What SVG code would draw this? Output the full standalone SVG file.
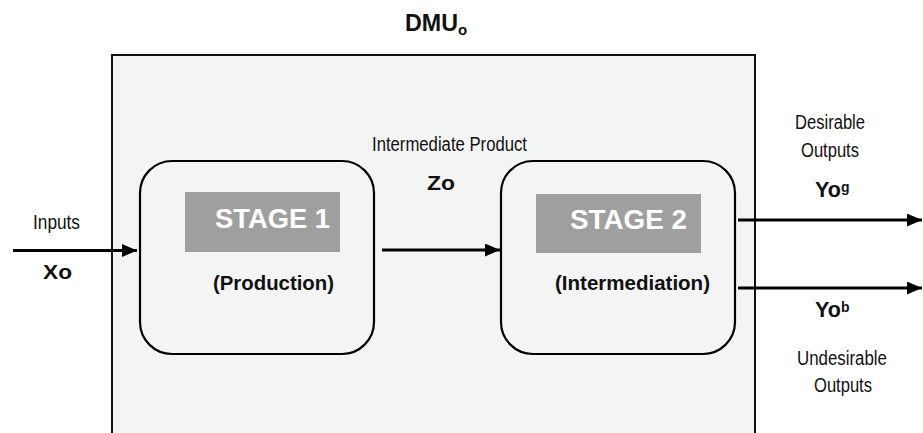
<svg xmlns="http://www.w3.org/2000/svg" width="923" height="433" viewBox="0 0 923 433">
<defs>
<marker id="ah" markerWidth="15" markerHeight="13" refX="15" refY="6.5" orient="auto" markerUnits="userSpaceOnUse">
<path d="M0,0 L15,6.5 L0,13 Z" fill="#000"/>
</marker>
<style>
.lbl{font-family:"Liberation Sans",Arial,sans-serif;font-size:19.5px;fill:#111;text-anchor:middle}
.b{font-family:"Liberation Sans",Arial,sans-serif;font-weight:bold;fill:#111;text-anchor:middle}
.st{text-anchor:start}
.stage{fill:#fff;font-size:28px}
.box{fill:none;stroke:#000;stroke-width:2.2}
.tag{fill:#9f9f9f}
.conn{stroke:#000;stroke-width:3;fill:none;marker-end:url(#ah)}
</style>
</defs>
<rect width="923" height="433" fill="#fff"/>
<g id="dmu">
<rect x="112" y="55" width="643" height="390" fill="#f3f5f4"/>
<path d="M112,433 V55 H755 V433" fill="none" stroke="#111" stroke-width="2"/>
<text class="b st" x="405" y="31" font-size="23"><tspan textLength="53" lengthAdjust="spacingAndGlyphs">DMU</tspan><tspan font-size="15" dy="4">o</tspan></text>
</g>
<g id="stage1">
<rect class="box" x="140" y="161" width="234" height="193" rx="32"/>
<rect class="tag" x="185" y="192" width="155" height="60"/>
<text class="b stage" x="272.5" y="228" textLength="115" lengthAdjust="spacingAndGlyphs">STAGE 1</text>
<text class="b" x="273.5" y="290" font-size="20.5" textLength="121" lengthAdjust="spacingAndGlyphs">(Production)</text>
</g>
<g id="stage2">
<rect class="box" x="501" y="161" width="234" height="193" rx="32"/>
<rect class="tag" x="536" y="194" width="165" height="59"/>
<text class="b stage" x="628.5" y="229" textLength="117" lengthAdjust="spacingAndGlyphs">STAGE 2</text>
<text class="b" x="632.5" y="290" font-size="20.5" textLength="155" lengthAdjust="spacingAndGlyphs">(Intermediation)</text>
</g>
<g id="connectors">
<line class="conn" x1="13" y1="250.5" x2="137" y2="250.5"/>
<line class="conn" x1="382" y1="250" x2="500" y2="250"/>
<line class="conn" x1="738" y1="220" x2="922" y2="220"/>
<line class="conn" x1="738" y1="288" x2="922" y2="288"/>
</g>
<g id="labels">
<text class="lbl" x="56.5" y="229" textLength="47" lengthAdjust="spacingAndGlyphs">Inputs</text>
<text class="b" x="57.5" y="279" font-size="20" textLength="29" lengthAdjust="spacingAndGlyphs">Xo</text>
<text class="lbl" x="449.5" y="151" textLength="155" lengthAdjust="spacingAndGlyphs">Intermediate Product</text>
<text class="b" x="441" y="190" font-size="21" textLength="28" lengthAdjust="spacingAndGlyphs">Zo</text>
<text class="lbl" x="830" y="129" textLength="70" lengthAdjust="spacingAndGlyphs">Desirable</text>
<text class="lbl" x="830" y="157" textLength="58" lengthAdjust="spacingAndGlyphs">Outputs</text>
<text class="b st" x="815" y="197" font-size="21.5">Yo<tspan font-size="14" dy="-5">g</tspan></text>
<text class="b st" x="815" y="317" font-size="21.5">Yo<tspan font-size="14" dy="-5">b</tspan></text>
<text class="lbl" x="842" y="365" textLength="90" lengthAdjust="spacingAndGlyphs">Undesirable</text>
<text class="lbl" x="843" y="392" textLength="58" lengthAdjust="spacingAndGlyphs">Outputs</text>
</g>
</svg>
